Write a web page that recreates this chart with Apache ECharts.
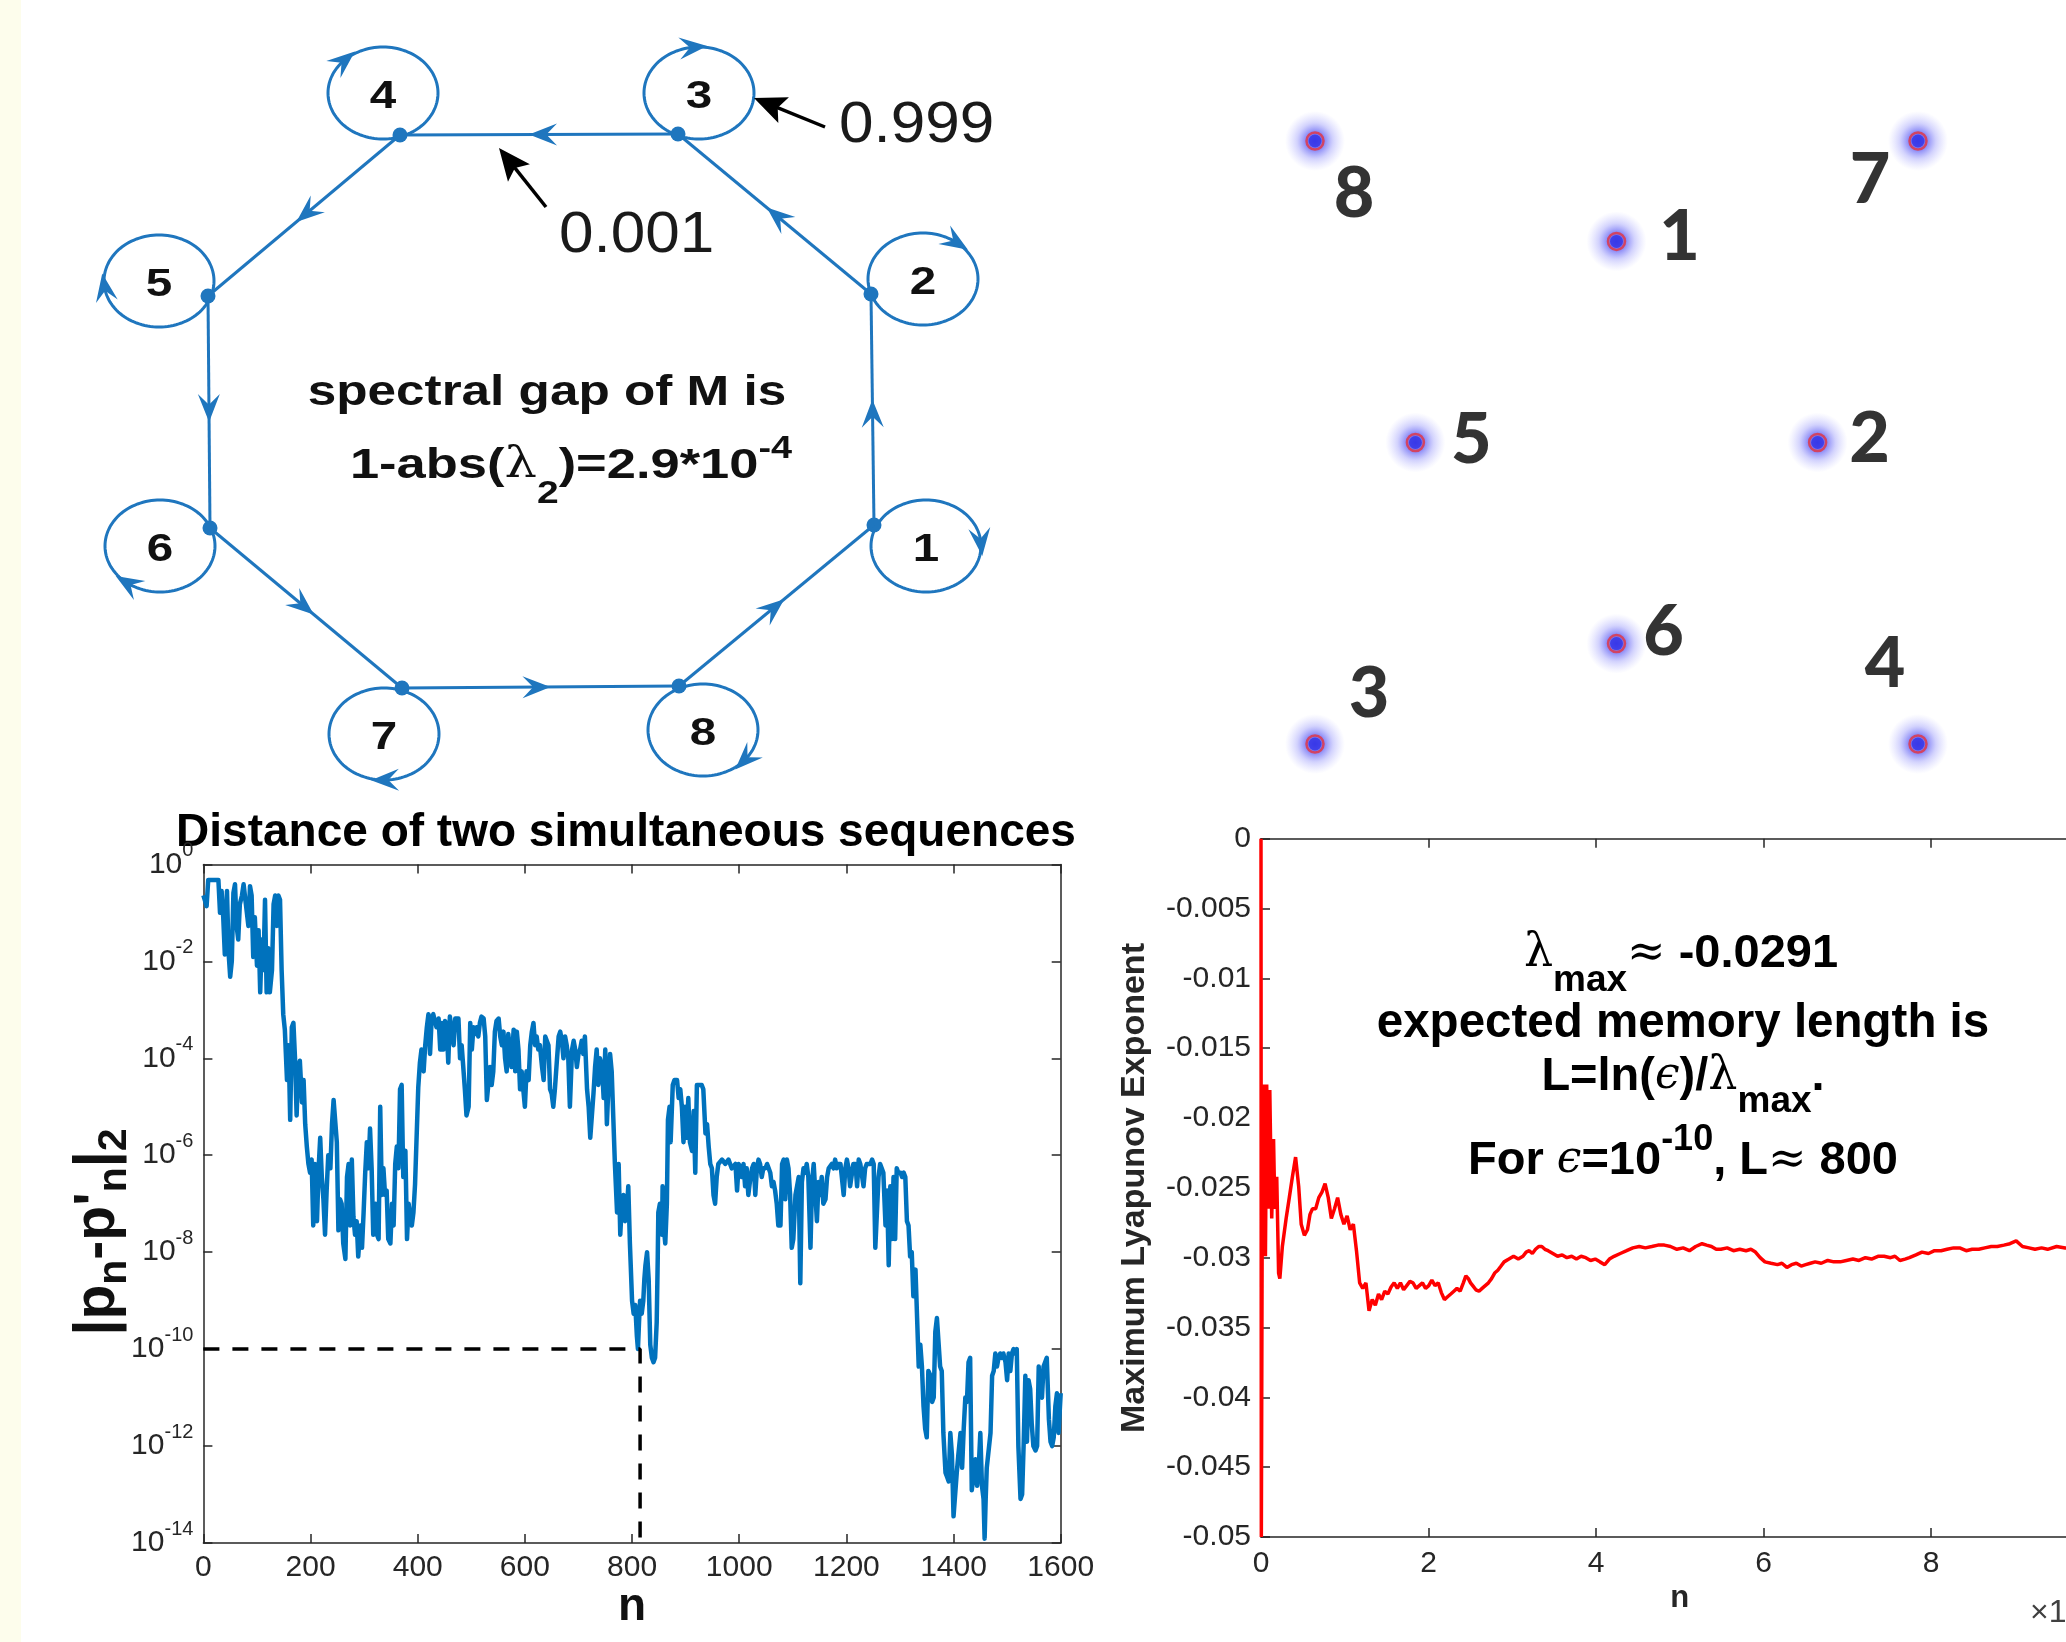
<!DOCTYPE html>
<html>
<head>
<meta charset="utf-8">
<script src="https://cdn.jsdelivr.net/npm/echarts/dist/echarts.min.js"></script>
<style>
  html, body { margin: 0; padding: 0; background: #ffffff; }
  #chart { width: 2066px; height: 1642px; }
</style>
</head>
<body>
<div id="chart"></div>
<script>
// ---------------------------------------------------------------
// Eight-state cyclic Markov chain (diagram coordinates, y downward)
// ---------------------------------------------------------------
const stateNames   = ['1', '2', '3', '4', '5', '6', '7', '8'];
const loopCenterX  = [926, 923, 699, 383, 159, 160, 384, 703];
const loopCenterY  = [546, 279, 93, 93, 281, 546, 734, 730];
const portX        = [874, 871, 678, 400, 208, 210, 402, 679];
const portY        = [525, 294, 134, 135, 296, 528, 688, 686];
const loopArrowDeg = [-5, -53, -96, -135, 172, 126, 89, 40];
const stayProb = '0.999';
const moveProb = '0.001';

// ---------------------------------------------------------------
// Clusters of the embedded states
// ---------------------------------------------------------------
const clusterNames = ['1', '2', '3', '4', '5', '6', '7', '8'];
const clusterX = [0, 0.667, -1, 1, -0.667, 0, 1, -1];
const clusterY = [0.667, 0, -1, -1, 0, -0.667, 1, 1];

// ---------------------------------------------------------------
// Distance of two simultaneous sequences: [n, log10 |p_n - p'_n|_2]
// ---------------------------------------------------------------
const gapEarly = [
  [0,-0.64],[6,-0.86],[9,-0.32],[22,-0.32],[28,-0.32],[31,-1.0],[34,-0.55],[37,-1.09],[40,-1.86],[44,-0.55],
  [47,-1.82],[50,-2.32],[53,-2.0],[56,-0.59],[59,-0.41],[62,-1.27],[65,-1.55],[68,-0.82],[72,-0.64],[75,-0.41],
  [78,-0.41],[84,-1.27],[87,-0.45],[90,-0.64],[93,-1.91],[96,-1.09],[100,-2.09],[103,-1.36],[106,-2.64],[109,-1.55],
  [112,-2.18],[115,-0.73],[118,-2.64],[121,-1.73],[124,-2.64],[128,-2.18],[131,-0.82],[134,-0.64],[137,-1.27],[140,-0.64],
  [143,-0.73],[146,-2.18],[149,-3.09],[152,-3.41],[156,-4.45],[159,-3.73],[162,-5.27],[165,-3.36],[168,-3.27],[171,-4.0],
  [174,-5.18],[177,-4.18],[180,-4.05],[184,-4.91],[187,-4.45],[190,-5.36],[193,-5.82],[196,-6.18],[199,-6.36],[202,-6.09],
  [205,-7.45],[208,-6.18],[212,-7.36],[215,-6.27],[218,-5.64],[221,-6.45],[224,-6.91],[227,-7.64],[230,-6.73],[233,-6.0],
  [237,-6.27],[240,-5.36],[243,-4.86],[246,-4.86],[249,-5.73],[252,-7.55],[255,-6.91],[258,-7.0],[261,-7.82],[265,-8.14],
  [268,-6.45],[271,-6.18],[274,-7.45],[277,-6.09],[280,-7.27],[283,-7.64],[286,-7.36],[289,-8.09],[293,-7.45],[296,-7.91],
  [299,-7.18],[302,-6.36],[305,-5.73],[308,-6.27],[311,-5.45],[314,-6.27],[317,-7.64],[321,-7.0],[324,-7.64],[327,-7.73],
  [330,-5.0],[333,-6.82],[336,-6.27],[339,-6.82],[342,-6.73],[345,-7.73],[349,-7.82],[352,-7.0],[355,-7.45],[358,-6.18],
  [361,-5.82],[364,-6.27],[367,-4.64],[370,-4.55],[373,-6.45],[377,-5.91],[380,-7.73],[383,-7.0],[386,-7.27],[389,-7.45],
  [392,-7.18]
];
const gapMiddle = [
  [395,-6.6],[398,-5.6],[401,-4.6],[404,-4.1],[407,-3.82],[411,-4.27],[414,-3.73],[417,-3.36],[420,-3.09],[423,-3.91],
  [426,-3.18],[429,-3.09],[432,-3.05],[435,-3.36],[439,-3.18],[442,-3.82],[445,-3.27],[448,-3.82],[451,-3.23],[454,-3.32],
  [457,-4.09],[460,-3.14],[463,-3.18],[467,-3.73],[470,-3.18],[473,-3.14],[476,-3.18],[479,-4.0],[482,-3.73],[485,-4.18],
  [488,-4.64],[491,-5.18],[495,-5.0],[498,-3.27],[501,-3.82],[504,-3.36],[507,-3.5],[510,-3.36],[513,-3.55],[516,-3.27],
  [519,-3.14],[523,-3.18],[526,-3.55],[529,-4.86],[532,-4.86],[535,-4.18],[538,-4.55],[541,-4.27],[544,-3.45],[547,-3.23],
  [551,-3.18],[554,-3.55],[557,-3.73],[560,-3.45],[563,-4.0],[566,-4.27],[569,-3.5],[572,-3.82],[575,-4.18],[579,-3.41],
  [582,-4.27],[585,-3.45],[588,-3.82],[591,-4.64],[594,-4.27],[597,-4.64],[600,-5.0],[603,-4.27],[607,-4.45],[610,-3.73],
  [613,-3.45],[616,-3.27],[619,-3.73],[622,-3.55],[625,-3.82],[628,-3.73],[632,-4.18],[635,-4.45],[638,-3.55],[641,-3.55],
  [644,-3.73],[647,-4.64],[650,-4.73],[653,-5.0],[656,-4.64],[660,-4.0],[663,-3.55],[666,-3.45],[669,-3.64],[672,-4.0],
  [675,-3.55],[678,-3.73],[681,-4.0],[684,-5.0],[688,-3.82],[691,-3.64],[694,-3.82],[697,-4.18],[700,-3.91],[703,-3.82],
  [706,-3.64],[709,-3.91],[712,-3.55],[716,-4.64],[719,-5.0],[722,-5.64],[725,-5.64],[728,-4.73],[731,-4.18],[734,-3.82],
  [737,-4.55],[740,-4.0],[744,-4.18],[747,-4.82],[750,-3.82],[753,-5.36],[756,-4.55],[759,-3.91],[762,-4.27],[765,-4.27],
  [768,-6.18],[772,-7.18],[775,-6.18],[778,-7.64],[781,-7.0],[784,-6.82],[787,-7.36],[790,-7.18],[793,-6.64],[796,-7.82],
  [800,-9.0],[803,-9.27],[806,-9.09],[809,-9.73],[811,-10.0]
];
const gapLate = [
  [813,-9.45],[815,-9.0],[818,-9.27],[821,-9.0],[823,-8.55],[825,-8.27],[828,-8.0],[831,-8.55],[834,-9.91],[837,-10.18],
  [840,-10.27],[843,-10.18],[846,-9.45],[848,-8.09],[849,-7.18],[852,-7.0],[856,-7.64],[857,-6.64],[859,-7.45],[862,-7.82],
  [865,-7.0],[867,-5.27],[870,-5.0],[872,-5.73],[874,-5.73],[876,-4.55],[879,-4.45],[884,-4.45],[887,-4.82],[890,-4.64],
  [893,-5.0],[896,-5.73],[899,-5.0],[902,-5.64],[905,-4.82],[908,-5.73],[912,-5.91],[915,-5.09],[918,-6.36],[921,-4.55],
  [924,-4.55],[930,-4.55],[933,-4.64],[937,-5.55],[940,-5.36],[943,-5.82],[946,-6.18],[949,-6.27],[952,-6.82],[955,-7.0],
  [958,-6.45],[961,-6.18],[968,-6.09],[974,-6.18],[980,-6.09],[986,-6.27],[993,-6.18],[996,-6.73],[999,-6.18],[1002,-6.27],
  [1005,-6.45],[1008,-6.18],[1011,-6.64],[1014,-6.27],[1017,-6.82],[1021,-6.45],[1024,-6.27],[1027,-6.18],[1030,-6.82],[1033,-6.27],
  [1036,-6.09],[1039,-6.18],[1042,-6.45],[1045,-6.27],[1049,-6.27],[1052,-6.18],[1055,-6.27],[1058,-6.36],[1061,-6.64],[1064,-6.55],
  [1067,-6.73],[1070,-7.0],[1073,-7.45],[1077,-7.45],[1080,-6.18],[1083,-6.09],[1086,-6.91],[1089,-6.09],[1092,-6.27],[1095,-6.82],
  [1098,-7.91],[1101,-7.73],[1105,-6.82],[1108,-6.64],[1111,-6.45],[1114,-8.64],[1117,-6.55],[1120,-6.27],[1123,-6.36],[1126,-6.18],
  [1129,-6.45],[1133,-7.91],[1136,-6.55],[1139,-6.18],[1142,-6.18],[1145,-7.36],[1148,-6.55],[1151,-6.82],[1154,-6.45],[1157,-7.0],
  [1161,-6.91],[1164,-6.45],[1167,-6.27],[1173,-6.18],[1176,-6.27],[1179,-6.09],[1182,-6.27],[1185,-6.18],[1189,-6.18],[1192,-6.18],
  [1195,-6.82],[1198,-6.27],[1201,-6.09],[1204,-6.27],[1207,-6.64],[1210,-6.64],[1213,-6.18]
];
const gapTail = [
  [1217,-6.18],[1220,-6.64],[1223,-6.09],[1226,-6.18],[1229,-6.18],[1232,-6.64],[1235,-6.27],[1238,-6.18],[1241,-6.18],[1245,-6.18],
  [1248,-6.09],[1251,-6.18],[1254,-7.91],[1257,-7.91],[1260,-6.45],[1263,-6.18],[1266,-6.27],[1269,-6.36],[1273,-7.45],[1276,-6.73],
  [1279,-8.27],[1282,-6.64],[1285,-7.73],[1288,-6.45],[1291,-7.73],[1294,-6.27],[1297,-6.36],[1301,-6.36],[1304,-6.45],[1307,-6.36],
  [1310,-6.45],[1313,-7.36],[1316,-7.45],[1319,-8.09],[1322,-8.0],[1325,-8.91],[1329,-8.36],[1332,-9.36],[1335,-10.36],[1338,-9.91],
  [1341,-10.36],[1344,-11.18],[1347,-11.64],[1350,-11.82],[1353,-10.45],[1357,-10.55],[1360,-11.09],[1363,-11.0],[1366,-9.64],[1369,-9.36],
  [1372,-9.36],[1375,-10.36],[1378,-10.45],[1381,-11.73],[1385,-12.55],[1388,-12.64],[1391,-12.73],[1394,-11.73],[1397,-12.18],[1400,-13.45],
  [1403,-13.45],[1406,-12.55],[1409,-12.18],[1413,-11.73],[1416,-12.45],[1419,-11.64],[1422,-11.0],[1425,-11.09],[1428,-10.27],[1431,-10.18],
  [1434,-12.91],[1437,-12.91],[1441,-12.27],[1444,-12.82],[1447,-12.45],[1450,-11.73],[1453,-12.82],[1456,-13.09],[1458,-13.91],[1460,-13.09],
  [1462,-12.45],[1465,-12.45],[1469,-11.73],[1472,-10.55],[1475,-10.45],[1478,-10.09],[1481,-10.36],[1484,-10.18],[1487,-10.09],[1490,-10.18],
  [1493,-10.09],[1497,-10.27],[1500,-10.64],[1503,-10.09],[1506,-10.45],[1509,-10.09],[1512,-10.0],[1515,-10.09],[1518,-10.0],[1521,-12.0],
  [1525,-13.09],[1528,-13.0],[1531,-11.91],[1534,-10.55],[1537,-11.91],[1540,-10.64],[1543,-10.82],[1546,-11.55],[1549,-12.0],[1553,-12.09],
  [1556,-12.0],[1559,-10.36],[1562,-10.91],[1565,-11.0],[1568,-10.36],[1571,-10.36],[1574,-10.18],[1578,-11.45],[1581,-11.91],[1584,-12.0],
  [1587,-11.82],[1590,-11.18],[1593,-10.91],[1596,-11.73],[1599,-11.73],[1600,-10.91]
];
// memory-length guide: epsilon = 1e-10 reached at n ~ 815
const memoryGuide = [[0, -10], [815, -10], [815, -14]];

// ---------------------------------------------------------------
// Running estimate of the maximum Lyapunov exponent (n in units of 1e4)
// ---------------------------------------------------------------
const lyapunov = [
  [0,0],[0.004,-0.05],[0.015,-0.0265],[0.03,-0.0176],[0.053,-0.0299],[0.068,-0.0176],[0.09,-0.0265],[0.105,-0.018],
  [0.128,-0.0272],[0.15,-0.0215],[0.165,-0.0265],[0.188,-0.0242],[0.21,-0.0311],[0.225,-0.0315],[0.255,-0.0292],[0.30,-0.0272],
  [0.338,-0.0257],[0.375,-0.0242],[0.413,-0.0228],[0.45,-0.0249],[0.48,-0.0276],[0.518,-0.0284],[0.555,-0.028],[0.585,-0.0269],
  [0.615,-0.0265],[0.653,-0.0265],[0.69,-0.0257],[0.728,-0.0253],[0.765,-0.0247],[0.803,-0.0257],[0.84,-0.0272],[0.878,-0.0265],
  [0.915,-0.0257],[0.953,-0.0269],[0.99,-0.0276],[1.028,-0.027],[1.065,-0.028],[1.103,-0.0276],[1.14,-0.0295],[1.178,-0.0318],
  [1.215,-0.0322],[1.253,-0.0318],[1.29,-0.0338],[1.328,-0.033],[1.365,-0.0334],[1.403,-0.0326],[1.44,-0.033],[1.478,-0.0324],
  [1.515,-0.0326],[1.553,-0.0321],[1.59,-0.0318],[1.628,-0.0322],[1.665,-0.0318],[1.703,-0.0323],[1.74,-0.032],[1.778,-0.0317],
  [1.815,-0.0318],[1.853,-0.0322],[1.89,-0.032],[1.928,-0.0318],[1.965,-0.0322],[2.003,-0.032],[2.04,-0.0316],[2.078,-0.032],
  [2.116,-0.0318],[2.153,-0.0325],[2.19,-0.033],[2.228,-0.0328],[2.266,-0.0326],[2.303,-0.0324],[2.34,-0.0322],[2.378,-0.0324],
  [2.416,-0.0318],[2.446,-0.0313],[2.476,-0.0315],[2.502,-0.0318],[2.528,-0.032],[2.566,-0.0323],[2.603,-0.0324],[2.64,-0.0322],
  [2.678,-0.032],[2.716,-0.0318],[2.753,-0.0315],[2.79,-0.0311],[2.828,-0.0309],[2.866,-0.0306],[2.903,-0.0303],[2.96,-0.0301],
  [3.016,-0.0299],[3.072,-0.0301],[3.128,-0.0299],[3.166,-0.0296],[3.203,-0.0295],[3.24,-0.0297],[3.278,-0.0294],[3.316,-0.0292],
  [3.353,-0.0292],[3.39,-0.0294],[3.428,-0.0295],[3.485,-0.0297],[3.541,-0.0299],[3.597,-0.0298],[3.653,-0.03],[3.71,-0.0299],
  [3.766,-0.0301],[3.822,-0.0299],[3.878,-0.03],[3.935,-0.0302],[3.991,-0.0301],[4.047,-0.0303],[4.104,-0.0305],[4.16,-0.0301],
  [4.216,-0.0299],[4.29,-0.0297],[4.366,-0.0295],[4.44,-0.0293],[4.516,-0.0292],[4.59,-0.0293],[4.666,-0.0292],[4.74,-0.0291],
  [4.816,-0.0291],[4.89,-0.0292],[4.966,-0.0294],[5.04,-0.0293],[5.116,-0.0295],[5.19,-0.0292],[5.266,-0.029],[5.32,-0.0291],
  [5.379,-0.0292],[5.435,-0.0294],[5.491,-0.0294],[5.566,-0.0293],[5.641,-0.0295],[5.716,-0.0294],[5.791,-0.0295],[5.85,-0.0294],
  [5.904,-0.0296],[5.96,-0.03],[6.017,-0.0303],[6.09,-0.0304],[6.167,-0.0305],[6.22,-0.0304],[6.279,-0.0307],[6.335,-0.0305],
  [6.392,-0.0304],[6.45,-0.0306],[6.504,-0.0305],[6.56,-0.0304],[6.617,-0.0303],[6.69,-0.0304],[6.767,-0.0302],[6.84,-0.0303],
  [6.917,-0.0303],[6.99,-0.0302],[7.067,-0.0301],[7.14,-0.0302],[7.217,-0.03],[7.29,-0.0301],[7.367,-0.0299],[7.44,-0.0299],
  [7.517,-0.03],[7.57,-0.0299],[7.629,-0.0302],[7.69,-0.0301],[7.742,-0.03],[7.82,-0.0298],[7.892,-0.0296],[7.97,-0.0297],
  [8.042,-0.0295],[8.12,-0.0295],[8.192,-0.0294],[8.27,-0.0293],[8.342,-0.0293],[8.42,-0.0295],[8.492,-0.0294],[8.57,-0.0294],
  [8.642,-0.0293],[8.72,-0.0292],[8.792,-0.0292],[8.87,-0.0291],[8.942,-0.029],[9.017,-0.0288],[9.092,-0.0292],[9.17,-0.0293],
  [9.242,-0.0294],[9.32,-0.0293],[9.392,-0.0294],[9.5,-0.0292],[9.602,-0.0293],[10,-0.0293]
];

// ---------------------------------------------------------------
// Layout and styling
// ---------------------------------------------------------------
const FONT = '"Liberation Sans", Arial, Helvetica, sans-serif';
const AXIS = '#262626';
const GRAPH_BLUE = '#1f76be';
const LINE_BLUE = '#0072bd';

const notesLayout = {
  stayArrow: [[825, 127], [754, 98]],
  moveArrow: [[546, 207], [499, 148]],
  stayText: [839, 126],
  moveText: [559, 236],
  gapLine1: [547, 393],
  gapLine2: [571, 466]
};
const clusterLabelOffset = [[63, -4], [52, -3], [54, -50], [-33, -80], [56, -2], [47, -11], [-48, 39], [39, 53]];

function arrowHead(tx, ty, dx, dy, len, half, notch) {
  const m = Math.hypot(dx, dy);
  dx /= m; dy /= m;
  const bx = tx - dx * len, by = ty - dy * len;
  const nx = -dy, ny = dx;
  return [[tx, ty], [bx + nx * half, by + ny * half], [tx - dx * len * notch, ty - dy * len * notch], [bx - nx * half, by - ny * half]];
}

function renderState(params, api) {
  const i = params.dataIndex;
  const j = (i + 1) % stateNames.length;
  const c = api.coord([loopCenterX[i], loopCenterY[i]]);
  const p = api.coord([portX[i], portY[i]]);
  const q = api.coord([portX[j], portY[j]]);
  const u = api.size([1, 1]);
  const rx = 55 * u[0], ry = 46 * u[1];
  const ring = [];
  for (let k = 0; k < 120; k++) {
    const a = k / 120 * Math.PI * 2;
    ring.push([c[0] + rx * Math.cos(a), c[1] + ry * Math.sin(a)]);
  }
  const th = loopArrowDeg[i] * Math.PI / 180;
  const lp = [c[0] + rx * Math.cos(th), c[1] + ry * Math.sin(th)];
  const ld = [-rx * Math.sin(th), ry * Math.cos(th)];
  const ldn = Math.hypot(ld[0], ld[1]);
  const loopTip = [lp[0] + ld[0] / ldn * 14, lp[1] + ld[1] / ldn * 14];
  const ed = [q[0] - p[0], q[1] - p[1]];
  const edn = Math.hypot(ed[0], ed[1]);
  const edgeTip = [(p[0] + q[0]) / 2 + ed[0] / edn * 10, (p[1] + q[1]) / 2 + ed[1] / edn * 10];
  return {
    type: 'group',
    children: [
      { type: 'polygon', shape: { points: ring }, style: { fill: 'none', stroke: GRAPH_BLUE, lineWidth: 3 } },
      { type: 'line', shape: { x1: p[0], y1: p[1], x2: q[0], y2: q[1] }, style: { stroke: GRAPH_BLUE, lineWidth: 3 } },
      { type: 'polygon', shape: { points: arrowHead(edgeTip[0], edgeTip[1], ed[0], ed[1], 28, 11, 0.62) }, style: { fill: GRAPH_BLUE } },
      { type: 'polygon', shape: { points: arrowHead(loopTip[0], loopTip[1], ld[0], ld[1], 28, 11, 0.62) }, style: { fill: GRAPH_BLUE } },
      { type: 'circle', shape: { cx: p[0], cy: p[1], r: 7.5 }, style: { fill: GRAPH_BLUE } },
      { type: 'text', x: c[0], y: c[1] + 4, scaleX: 1.22,
        style: { text: stateNames[i], x: 0, y: 0, font: 'bold 39px ' + FONT, fill: '#111', align: 'center', verticalAlign: 'middle' } }
    ]
  };
}

function renderNotes(params, api) {
  const kids = [];
  [notesLayout.stayArrow, notesLayout.moveArrow].forEach(function (seg) {
    const a = api.coord(seg[0]), b = api.coord(seg[1]);
    const d = [b[0] - a[0], b[1] - a[1]];
    const dn = Math.hypot(d[0], d[1]);
    const end = [b[0] - d[0] / dn * 20, b[1] - d[1] / dn * 20];
    kids.push({ type: 'line', shape: { x1: a[0], y1: a[1], x2: end[0], y2: end[1] }, style: { stroke: '#000', lineWidth: 3.5 } });
    kids.push({ type: 'polygon', shape: { points: arrowHead(b[0], b[1], d[0], d[1], 32, 14, 0.8) }, style: { fill: '#000' } });
  });
  const st = api.coord(notesLayout.stayText), mv = api.coord(notesLayout.moveText);
  kids.push({ type: 'text', x: st[0], y: st[1], scaleX: 1.07,
    style: { text: stayProb, x: 0, y: 0, font: '58px ' + FONT, fill: '#1a1a1a', align: 'left', verticalAlign: 'middle' } });
  kids.push({ type: 'text', x: mv[0], y: mv[1], scaleX: 1.07,
    style: { text: moveProb, x: 0, y: 0, font: '58px ' + FONT, fill: '#1a1a1a', align: 'left', verticalAlign: 'middle' } });
  const g1 = api.coord(notesLayout.gapLine1), g2 = api.coord(notesLayout.gapLine2);
  kids.push({ type: 'text', x: g1[0], y: g1[1], scaleX: 1.22,
    style: { text: 'spectral gap of M is', x: 0, y: 0, font: 'bold 42px ' + FONT, fill: '#111', align: 'center', verticalAlign: 'middle' } });
  kids.push({ type: 'text', x: g2[0], y: g2[1], scaleX: 1.22,
    style: {
      text: '{b|1-abs(}{g|λ}{s|2}{b|)=2.9*10}{p|-4}', x: 0, y: 0, align: 'center', verticalAlign: 'middle',
      rich: {
        b: { fontFamily: 'Liberation Sans', fontWeight: 'bold', fontSize: 43, fill: '#111' },
        g: { fontFamily: 'DejaVu Serif', fontSize: 42, fill: '#111' },
        s: { fontFamily: 'Liberation Sans', fontWeight: 'bold', fontSize: 32, fill: '#111', padding: [56, 0, 0, 0] },
        p: { fontFamily: 'Liberation Sans', fontWeight: 'bold', fontSize: 31, fill: '#111', padding: [0, 0, 34, 0] }
      }
    } });
  return { type: 'group', children: kids };
}

const cloudFill = {
  type: 'radial', x: 0.5, y: 0.5, r: 0.5,
  colorStops: [
    { offset: 0, color: 'rgba(30,30,235,1)' },
    { offset: 0.3, color: 'rgba(55,55,240,0.75)' },
    { offset: 0.6, color: 'rgba(95,95,248,0.35)' },
    { offset: 1, color: 'rgba(140,140,255,0)' }
  ]
};

const hiddenAxis = { show: false };
const boxLine = { show: true, onZero: false, lineStyle: { color: AXIS, width: 1.5 } };
const inTick = { show: true, inside: true, length: 9, lineStyle: { color: AXIS, width: 1.5 } };
const plainNumber = function (v) { return String(v); };

const option = {
  animation: false,
  backgroundColor: '#ffffff',
  textStyle: { fontFamily: FONT },
  grid: [
    { left: 0, top: 0, width: 1050, height: 820, outerBoundsMode: 'none', containLabel: false },
    { left: 203.4, top: 864.4, width: 857.3, height: 678.6, outerBoundsMode: 'none', containLabel: false },
    { left: 1315, top: 141, width: 603, height: 603, outerBoundsMode: 'none', containLabel: false },
    { left: 1261, top: 838.7, width: 837.5, height: 698.3, outerBoundsMode: 'none', containLabel: false }
  ],
  xAxis: [
    Object.assign({ gridIndex: 0, type: 'value', min: 0, max: 1050 }, hiddenAxis),
    {
      gridIndex: 1, type: 'value', min: 0, max: 1600, interval: 200, position: 'bottom',
      axisLine: boxLine, axisTick: inTick, splitLine: { show: false },
      axisLabel: { fontSize: 30, color: AXIS, margin: 10, fontFamily: FONT, showMinLabel: true, showMaxLabel: true, formatter: plainNumber },
      name: 'n', nameLocation: 'middle', nameGap: 41,
      nameTextStyle: { fontSize: 46, fontWeight: 'bold', color: '#111', fontFamily: FONT }
    },
    {
      gridIndex: 1, type: 'value', min: 0, max: 1600, interval: 200, position: 'top',
      axisLine: boxLine, axisTick: inTick, axisLabel: { show: false }, splitLine: { show: false }
    },
    Object.assign({ gridIndex: 2, type: 'value', min: -1, max: 1 }, hiddenAxis),
    {
      gridIndex: 3, type: 'value', min: 0, max: 10, interval: 2, position: 'bottom',
      axisLine: boxLine, axisTick: inTick, splitLine: { show: false },
      axisLabel: { fontSize: 30, color: AXIS, margin: 12, fontFamily: FONT, showMinLabel: true, showMaxLabel: true, formatter: plainNumber },
      name: 'n', nameLocation: 'middle', nameGap: 46,
      nameTextStyle: { fontSize: 31, fontWeight: 'bold', color: '#262626', fontFamily: FONT }
    },
    {
      gridIndex: 3, type: 'value', min: 0, max: 10, interval: 2, position: 'top',
      axisLine: boxLine, axisTick: inTick, axisLabel: { show: false }, splitLine: { show: false }
    }
  ],
  yAxis: [
    Object.assign({ gridIndex: 0, type: 'value', min: 0, max: 820, inverse: true }, hiddenAxis),
    {
      gridIndex: 1, type: 'value', min: -14, max: 0, interval: 2, position: 'left',
      axisLine: boxLine, axisTick: inTick, splitLine: { show: false },
      axisLabel: {
        margin: 10, showMinLabel: true, showMaxLabel: true,
        formatter: function (v) { return '{b|10}{s|' + v + '}'; },
        rich: {
          b: { fontSize: 30, color: AXIS, fontFamily: FONT },
          s: { fontSize: 20, color: AXIS, fontFamily: FONT, padding: [0, 0, 28, 0] }
        }
      }
    },
    {
      gridIndex: 1, type: 'value', min: -14, max: 0, interval: 2, position: 'right',
      axisLine: boxLine, axisTick: inTick, axisLabel: { show: false }, splitLine: { show: false }
    },
    Object.assign({ gridIndex: 2, type: 'value', min: -1, max: 1 }, hiddenAxis),
    {
      gridIndex: 3, type: 'value', min: -0.05, max: 0, interval: 0.005, position: 'left',
      axisLine: boxLine, axisTick: inTick, splitLine: { show: false },
      axisLabel: {
        fontSize: 30, color: AXIS, margin: 10, fontFamily: FONT, showMinLabel: true, showMaxLabel: true,
        formatter: function (v) { return Math.abs(v) < 1e-9 ? '0' : String(+v.toFixed(3)); }
      }
    }
  ],
  series: [
    {
      type: 'custom', name: 'chain', xAxisIndex: 0, yAxisIndex: 0, silent: true,
      data: stateNames.map(function (s, i) { return [loopCenterX[i], loopCenterY[i]]; }),
      renderItem: renderState, z: 3
    },
    {
      type: 'custom', name: 'chain notes', xAxisIndex: 0, yAxisIndex: 0, silent: true,
      data: [[0, 0]], renderItem: renderNotes, z: 4
    },
    {
      type: 'scatter', name: 'cluster cloud', xAxisIndex: 3, yAxisIndex: 3, silent: true,
      symbol: 'circle', symbolSize: 60, itemStyle: { color: cloudFill },
      data: clusterX.map(function (x, i) { return [x, clusterY[i]]; })
    },
    {
      type: 'scatter', name: 'cluster core', xAxisIndex: 3, yAxisIndex: 3, silent: true,
      symbol: 'circle', symbolSize: 13, itemStyle: { color: '#3333e6' },
      data: clusterX.map(function (x, i) { return [x, clusterY[i]]; })
    },
    {
      type: 'scatter', name: 'cluster centre', xAxisIndex: 3, yAxisIndex: 3, silent: true,
      symbol: 'circle', symbolSize: 17, itemStyle: { color: 'rgba(0,0,0,0)', borderColor: '#e5333f', borderWidth: 2.5 },
      data: clusterX.map(function (x, i) {
        return {
          value: [x, clusterY[i]], name: clusterNames[i],
          label: {
            show: true, position: 'inside', offset: clusterLabelOffset[i], formatter: '{b}',
            fontFamily: 'Lato, "Open Sans", sans-serif', fontWeight: 900, fontSize: 70, color: '#000'
          }
        };
      })
    },
    {
      type: 'line', name: 'distance', xAxisIndex: 1, yAxisIndex: 1, silent: true,
      data: gapEarly.concat(gapMiddle, gapLate, gapTail),
      showSymbol: false, symbol: 'none', sampling: false,
      lineStyle: { color: LINE_BLUE, width: 4.5, join: 'round' }, z: 3
    },
    {
      type: 'line', name: 'memory guide', xAxisIndex: 1, yAxisIndex: 1, silent: true,
      data: memoryGuide, showSymbol: false, symbol: 'none',
      lineStyle: { color: '#000', width: 3.5, type: [16, 13] }, z: 4
    },
    {
      type: 'line', name: 'lyapunov', xAxisIndex: 4, yAxisIndex: 4, silent: true,
      data: lyapunov, showSymbol: false, symbol: 'none', sampling: false,
      lineStyle: { color: '#ff0000', width: 3.5 }, z: 3
    }
  ],
  graphic: [
    { type: 'rect', shape: { x: 0, y: 0, width: 21, height: 1642 }, style: { fill: '#fdfdec' }, silent: true, z: -10 },
    {
      type: 'text', x: 626, y: 833, silent: true,
      style: { text: 'Distance of two simultaneous sequences', font: 'bold 46px ' + FONT, fill: '#000', align: 'center', verticalAlign: 'middle' }
    },
    {
      type: 'text', x: 98, y: 1232, rotation: Math.PI / 2, silent: true,
      style: {
        text: '{m||p}{s|n}{m|-p\'}{s|n}{m||}{s|2}', align: 'center', verticalAlign: 'middle',
        rich: {
          m: { fontFamily: 'Liberation Sans', fontWeight: 'bold', fontSize: 57, fill: '#111' },
          s: { fontFamily: 'Liberation Sans', fontWeight: 'bold', fontSize: 41, fill: '#111', padding: [34, 0, 0, 0] }
        }
      }
    },
    {
      type: 'text', x: 1135, y: 1188, rotation: Math.PI / 2, silent: true,
      style: { text: 'Maximum Lyapunov Exponent', font: 'bold 34px ' + FONT, fill: '#262626', align: 'center', verticalAlign: 'middle' }
    },
    {
      type: 'text', x: 1681, y: 954, silent: true,
      style: {
        text: '{g|λ}{s|max}{g|≈}{b| -0.0291}', align: 'center', verticalAlign: 'middle',
        rich: {
          b: { fontFamily: 'Liberation Sans', fontWeight: 'bold', fontSize: 47, fill: '#000' },
          g: { fontFamily: 'DejaVu Serif', fontSize: 46, fill: '#000' },
          s: { fontFamily: 'Liberation Sans', fontWeight: 'bold', fontSize: 37, fill: '#000', padding: [54, 0, 0, 0] }
        }
      }
    },
    {
      type: 'text', x: 1683, y: 1024, silent: true,
      style: { text: 'expected memory length is', font: 'bold 47.5px ' + FONT, fill: '#000', align: 'center', verticalAlign: 'middle' }
    },
    {
      type: 'text', x: 1683, y: 1077, silent: true,
      style: {
        text: '{b|L=ln(}{e|ϵ}{b|)/}{g|λ}{s|max}{b|.}', align: 'center', verticalAlign: 'middle',
        rich: {
          b: { fontFamily: 'Liberation Sans', fontWeight: 'bold', fontSize: 47, fill: '#000' },
          e: { fontFamily: 'DejaVu Serif', fontStyle: 'italic', fontSize: 44, fill: '#000' },
          g: { fontFamily: 'DejaVu Serif', fontSize: 46, fill: '#000' },
          s: { fontFamily: 'Liberation Sans', fontWeight: 'bold', fontSize: 37, fill: '#000', padding: [50, 0, 0, 0] }
        }
      }
    },
    {
      type: 'text', x: 1683, y: 1161, silent: true,
      style: {
        text: '{b|For }{e|ϵ}{b|=10}{p|-10}{b|, L}{g|≈}{b| 800}', align: 'center', verticalAlign: 'middle',
        rich: {
          b: { fontFamily: 'Liberation Sans', fontWeight: 'bold', fontSize: 47, fill: '#000' },
          e: { fontFamily: 'DejaVu Serif', fontStyle: 'italic', fontSize: 44, fill: '#000' },
          g: { fontFamily: 'DejaVu Serif', fontSize: 46, fill: '#000' },
          p: { fontFamily: 'Liberation Sans', fontWeight: 'bold', fontSize: 36, fill: '#000', padding: [0, 0, 42, 0] }
        }
      }
    },
    {
      type: 'text', x: 2030, y: 1613, silent: true,
      style: {
        text: '{t|×10}{p|4}', align: 'left', verticalAlign: 'middle',
        rich: {
          t: { fontFamily: 'Liberation Sans', fontSize: 32, fill: '#404040' },
          p: { fontFamily: 'Liberation Sans', fontSize: 21, fill: '#404040', padding: [0, 0, 24, 0] }
        }
      }
    }
  ]
};

const chart = echarts.init(document.getElementById('chart'), null, { renderer: 'canvas', width: 2066, height: 1642 });
chart.setOption(option);
</script>
</body>
</html>
